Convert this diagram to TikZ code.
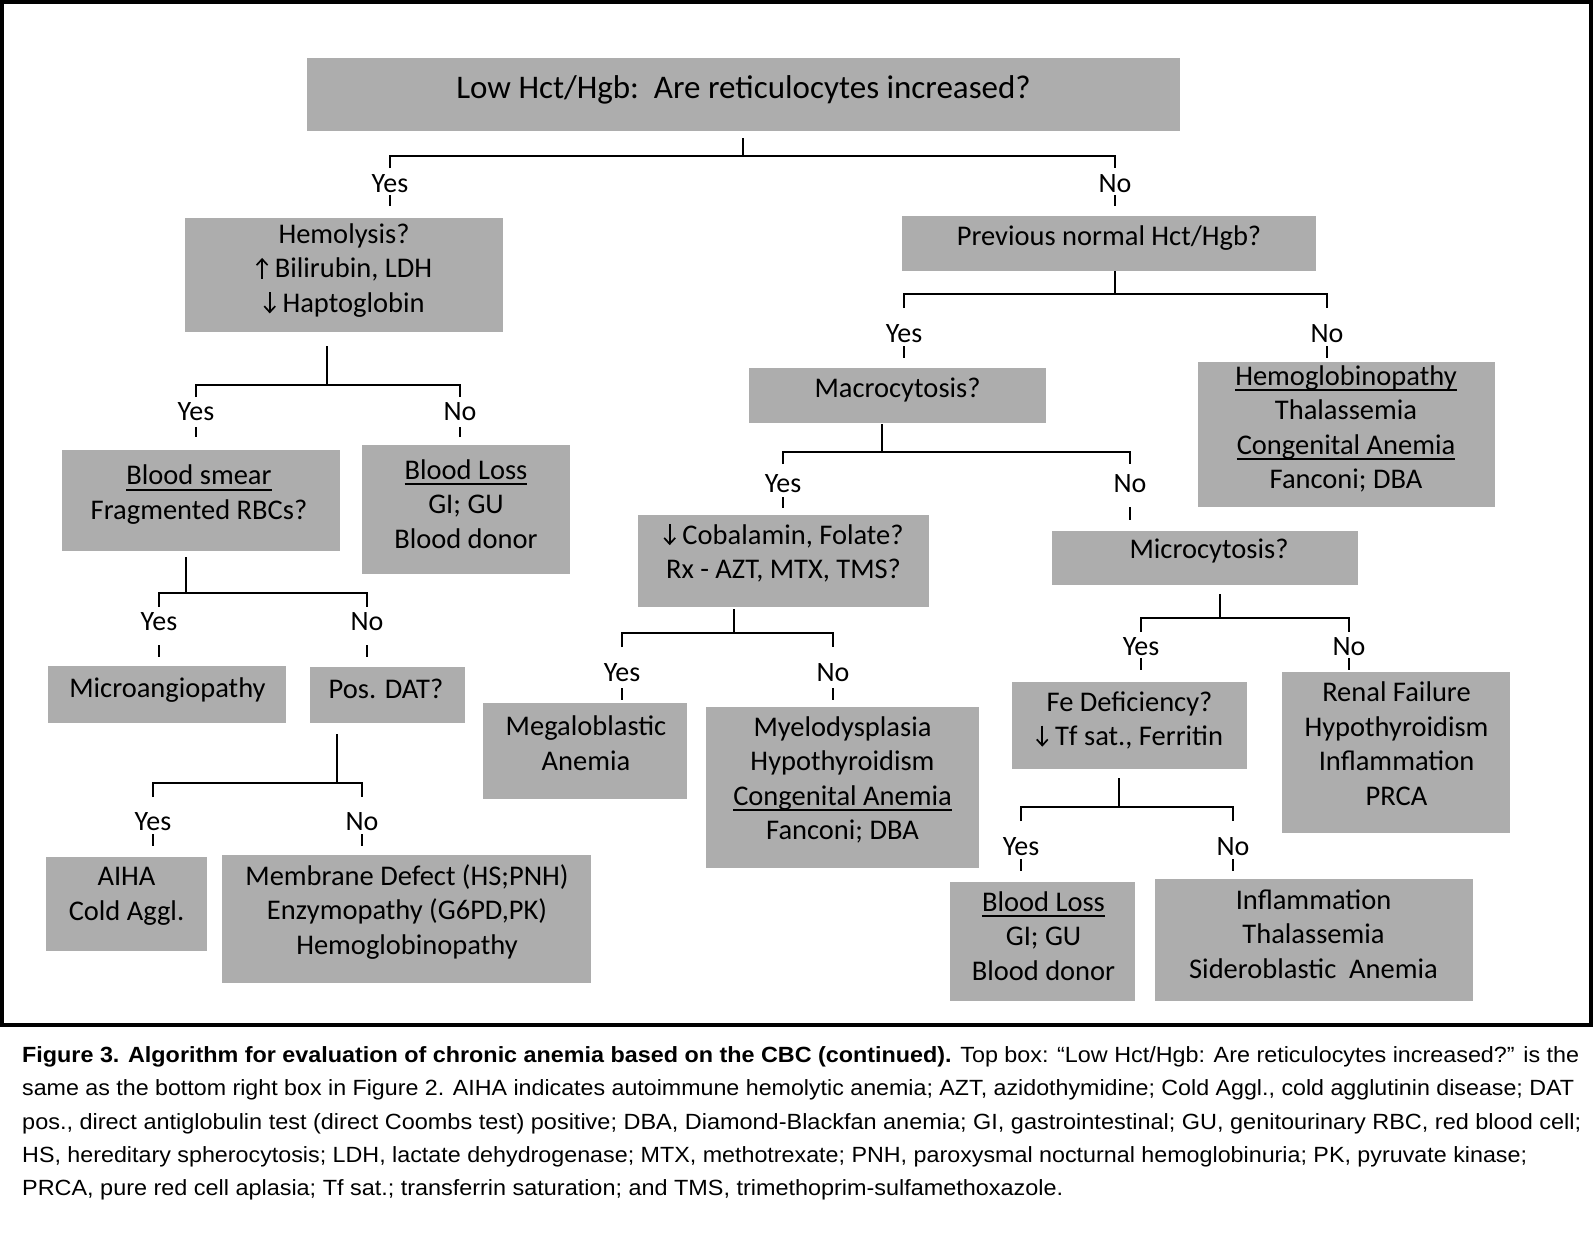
\documentclass[tikz,border=0pt]{standalone}
\usepackage{fontspec}
\setmainfont{Carlito}
\newfontfamily\capfont{Liberation Sans}
\usepackage{graphicx}
\usetikzlibrary{fit,calc,arrows.meta}
\definecolor{boxgray}{RGB}{173,173,173}
\newsavebox\ulbox
\newcommand\undl[1]{\sbox\ulbox{#1}\rlap{\rule[-6pt]{\wd\ulbox}{2pt}}\usebox\ulbox}
\newcommand\uparr{\tikz[baseline=0pt,x=1pt,y=1pt]{\draw[line width=1.7pt,-{Straight Barb[length=6pt,width=11pt,line width=1.7pt]}] (5.5,-1) -- (5.5,20);}}
\newcommand\dnarr{\tikz[baseline=0pt,x=1pt,y=1pt]{\draw[line width=1.7pt,-{Straight Barb[length=6pt,width=11pt,line width=1.7pt]}] (5.5,20) -- (5.5,-1);}}
\newcommand\capline[2]{\resizebox{#1}{\height}{\capfont\fontsize{22}{26}\selectfont #2}}
\tikzset{
  gbox/.style={fill=boxgray, draw=none, inner sep=0pt},
  gtxt/.style={align=center, inner sep=0pt, font=\fontsize{28.5}{34.5}\selectfont},
  ylab/.style={inner sep=0pt, font=\fontsize{28}{34}\selectfont},
  conn/.style={line width=2.6pt},
  tk/.style={line width=2pt},
  capn/.style={anchor=base west, inner sep=0pt},
}
\begin{document}
\begin{tikzpicture}[x=1pt,y=-1pt]
\useasboundingbox (0,0) rectangle (1594,1248);
\fill[white] (0,0) rectangle (1594,1248);
\draw[line width=4pt] (2,2) rectangle (1591,1025);

% ---------- boxes ----------
\node[gbox, fit={(307,58) (1180,131)}] (top) {};
\node[gbox, fit={(185,218) (503,332)}] (hemo) {};
\node[gbox, fit={(62,450) (340,551)}] (smear) {};
\node[gbox, fit={(362,445) (570,574)}] (lossL) {};
\node[gbox, fit={(48,666) (286,723)}] (micro) {};
\node[gbox, fit={(310,667) (465,723)}] (dat) {};
\node[gbox, fit={(46,857) (207,951)}] (aiha) {};
\node[gbox, fit={(222,855) (591,983)}] (memb) {};
\node[gbox, fit={(902,216) (1316,271)}] (prev) {};
\node[gbox, fit={(749,368) (1046,423)}] (macro) {};
\node[gbox, fit={(1198,362) (1495,507)}] (hemoR) {};
\node[gbox, fit={(638,515) (929,607)}] (cobal) {};
\node[gbox, fit={(1052,531) (1358,585)}] (mcyt) {};
\node[gbox, fit={(483,703) (687,799)}] (mega) {};
\node[gbox, fit={(706,707) (979,868)}] (myelo) {};
\node[gbox, fit={(1012,682) (1247,769)}] (fe) {};
\node[gbox, fit={(1282,672) (1510,833)}] (renal) {};
\node[gbox, fit={(950,882) (1135,1001)}] (lossR) {};
\node[gbox, fit={(1155,879) (1473,1001)}] (infl) {};

% ---------- box texts ----------
\node[gtxt, font=\fontsize{33}{40}\selectfont] (top-t) at (743.5,90.5) {Low Hct/Hgb:\ \ Are reticulocytes increased?\strut};
\node[gtxt] (hemo-t) at (344,271) {Hemolysis?\strut\\\uparr\ Bilirubin, LDH\strut\\\dnarr\ Haptoglobin\strut};
\node[gtxt] (smear-t) at (199,495) {\undl{Blood smear}\strut\\Fragmented RBCs?\strut};
\node[gtxt] (lossL-t) at (466,507) {\undl{Blood Loss}\strut\\GI; GU\strut\\Blood donor\strut};
\node[gtxt] (micro-t) at (167.5,691) {Microangiopathy\strut};
\node[gtxt] (dat-t) at (386,692) {Pos. DAT?\strut};
\node[gtxt] (aiha-t) at (126.5,896) {AIHA\strut\\Cold Aggl.\strut};
\node[gtxt] (memb-t) at (407,913) {Membrane Defect (HS;PNH)\strut\\Enzymopathy (G6PD,PK)\strut\\Hemoglobinopathy\strut};
\node[gtxt] (prev-t) at (1109,239) {Previous normal Hct/Hgb?\strut};
\node[gtxt] (macro-t) at (897.5,391) {Macrocytosis?\strut};
\node[gtxt] (hemoR-t) at (1346,430) {\undl{Hemoglobinopathy}\strut\\Thalassemia\strut\\\undl{Congenital Anemia}\strut\\Fanconi; DBA\strut};
\node[gtxt] (cobal-t) at (783.5,554.5) {\dnarr\ Cobalamin, Folate?\strut\\Rx - AZT, MTX, TMS?\strut};
\node[gtxt] (mcyt-t) at (1209,552) {Microcytosis?\strut};
\node[gtxt] (mega-t) at (586,746) {Megaloblastic\strut\\Anemia\strut};
\node[gtxt] (myelo-t) at (842.5,781) {Myelodysplasia\strut\\Hypothyroidism\strut\\\undl{Congenital Anemia}\strut\\Fanconi; DBA\strut};
\node[gtxt] (fe-t) at (1129.5,721.5) {Fe Deficiency?\strut\\\dnarr\ Tf sat., Ferritin\strut};
\node[gtxt] (renal-t) at (1396.5,746.5) {Renal Failure\strut\\Hypothyroidism\strut\\Inflammation\strut\\PRCA\strut};
\node[gtxt] (lossR-t) at (1043.5,939) {\undl{Blood Loss}\strut\\GI; GU\strut\\Blood donor\strut};
\node[gtxt] (infl-t) at (1313.5,937) {Inflammation\strut\\Thalassemia\strut\\Sideroblastic\ \ Anemia\strut};

% ---------- Yes / No labels ----------
\node[ylab] (yA) at (390,186) {Yes\strut};
\node[ylab] (nA) at (1115,186) {No\strut};
\node[ylab] (yB) at (196,414) {Yes\strut};
\node[ylab] (nB) at (460,414) {No\strut};
\node[ylab] (yC) at (159,624) {Yes\strut};
\node[ylab] (nC) at (367,624) {No\strut};
\node[ylab] (yD) at (153,824) {Yes\strut};
\node[ylab] (nD) at (362,824) {No\strut};
\node[ylab] (yE) at (904,336) {Yes\strut};
\node[ylab] (nE) at (1327,336) {No\strut};
\node[ylab] (yF) at (783,486) {Yes\strut};
\node[ylab] (nF) at (1130,486) {No\strut};
\node[ylab] (yG) at (622,675) {Yes\strut};
\node[ylab] (nG) at (833,675) {No\strut};
\node[ylab] (yH) at (1141,649) {Yes\strut};
\node[ylab] (nH) at (1349,649) {No\strut};
\node[ylab] (yI) at (1021,849) {Yes\strut};
\node[ylab] (nI) at (1233,849) {No\strut};

% ---------- connectors ----------
% A: top
\draw[conn] ($(top.south -| 743,0)+(0,7)$) -- (743,156) coordinate (jA);
\draw[conn] (yA |- 0,168) |- (jA) -| (nA |- 0,168);
\draw[tk] (yA |- 0,195) -- (yA |- 0,206);
\draw[tk] (nA |- 0,195) -- (nA |- 0,206);
% B: hemolysis
\draw[conn] ($(hemo.south -| 327,0)+(0,14)$) -- (327,385) coordinate (jB);
\draw[conn] (yB |- 0,397) |- (jB) -| (nB |- 0,397);
\draw[tk] (yB |- 0,427) -- (yB |- 0,437);
\draw[tk] (nB |- 0,427) -- (nB |- 0,437);
% C: blood smear
\draw[conn] ($(smear.south -| 186,0)+(0,6)$) -- (186,593) coordinate (jC);
\draw[conn] (yC |- 0,607) |- (jC) -| (nC |- 0,607);
\draw[tk] (yC |- 0,645) -- (yC |- 0,657);
\draw[tk] (nC |- 0,645) -- (nC |- 0,657);
% D: pos. DAT
\draw[conn] ($(dat.south -| 337,0)+(0,11)$) -- (337,783) coordinate (jD);
\draw[conn] (yD |- 0,797) |- (jD) -| (nD |- 0,797);
\draw[tk] (yD |- 0,834) -- (yD |- 0,846);
\draw[tk] (nD |- 0,834) -- (nD |- 0,846);
% E: previous normal
\draw[conn] (prev.south -| 1115,0) -- (1115,294) coordinate (jE);
\draw[conn] (yE |- 0,308) |- (jE) -| (nE |- 0,308);
\draw[tk] (yE |- 0,346) -- (yE |- 0,358);
\draw[tk] (nE |- 0,346) -- (nE |- 0,358);
% F: macrocytosis
\draw[conn] ($(macro.south -| 882,0)+(0,1)$) -- (882,452) coordinate (jF);
\draw[conn] (yF |- 0,464) |- (jF) -| (nF |- 0,464);
\draw[tk] (yF |- 0,497) -- (yF |- 0,508);
\draw[tk] (nF |- 0,507) -- (nF |- 0,520);
% G: cobalamin
\draw[conn] ($(cobal.south -| 734,0)+(0,2)$) -- (734,633) coordinate (jG);
\draw[conn] (yG |- 0,647) |- (jG) -| (nG |- 0,647);
\draw[tk] (yG |- 0,688) -- (yG |- 0,700);
\draw[tk] (nG |- 0,688) -- (nG |- 0,700);
% H: microcytosis
\draw[conn] ($(mcyt.south -| 1220,0)+(0,9)$) -- (1220,618) coordinate (jH);
\draw[conn] (yH |- 0,632) |- (jH) -| (nH |- 0,632);
\draw[tk] (yH |- 0,658) -- (yH |- 0,670);
\draw[tk] (nH |- 0,658) -- (nH |- 0,670);
% I: Fe deficiency
\draw[conn] ($(fe.south -| 1119,0)+(0,9)$) -- (1119,807) coordinate (jI);
\draw[conn] (yI |- 0,821) |- (jI) -| (nI |- 0,821);
\draw[tk] (yI |- 0,859) -- (yI |- 0,871);
\draw[tk] (nI |- 0,859) -- (nI |- 0,871);

% ---------- caption ----------
\node[capn] (cap1) at (22,1062) {\capline{1557pt}{\textbf{Figure 3. Algorithm for evaluation of chronic anemia based on the CBC (continued).} Top box: “Low Hct/Hgb: Are reticulocytes increased?” is the}};
\node[capn] (cap2) at (22,1095) {\capline{1552pt}{same as the bottom right box in Figure 2. AIHA indicates autoimmune hemolytic anemia; AZT, azidothymidine; Cold Aggl., cold agglutinin disease; DAT}};
\node[capn] (cap3) at (22,1129) {\capline{1559pt}{pos., direct antiglobulin test (direct Coombs test) positive; DBA, Diamond-Blackfan anemia; GI, gastrointestinal; GU, genitourinary RBC, red blood cell;}};
\node[capn] (cap4) at (22,1162) {\capline{1505pt}{HS, hereditary spherocytosis; LDH, lactate dehydrogenase; MTX, methotrexate; PNH, paroxysmal nocturnal hemoglobinuria; PK, pyruvate kinase;}};
\node[capn] (cap5) at (22,1195) {\capline{1041pt}{PRCA, pure red cell aplasia; Tf sat.; transferrin saturation; and TMS, trimethoprim-sulfamethoxazole.}};
\end{tikzpicture}
\end{document}
